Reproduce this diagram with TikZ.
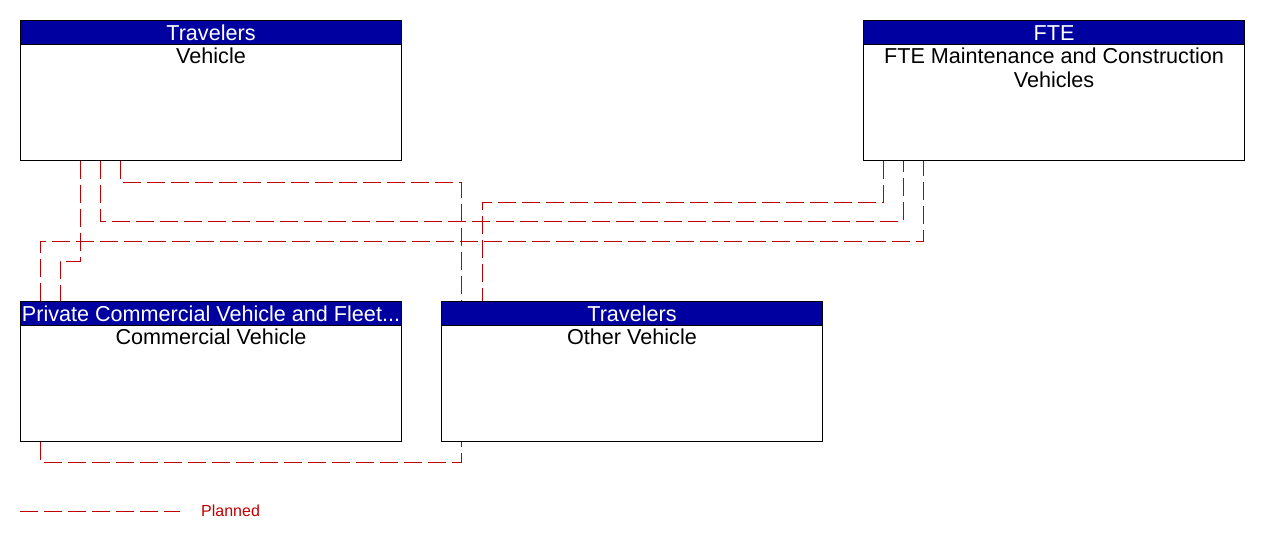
\documentclass[tikz,border=0pt]{standalone}
\usepackage{fontspec}
\setmainfont{Liberation Sans}
\usetikzlibrary{calc}
\definecolor{hdrblue}{RGB}{0,0,160}
\definecolor{planred}{RGB}{192,0,0}
\tikzset{
  body/.style={draw=black, line width=1pt, fill=white, minimum width=381pt, minimum height=140pt, inner sep=0pt, anchor=north west},
  header/.style={draw=black, line width=1pt, fill=hdrblue, minimum width=381pt, minimum height=24pt, inner sep=0pt, anchor=north west},
  hdrtext/.style={text=white, font=\fontsize{21.6}{24}\selectfont, anchor=base, inner sep=0pt},
  bodytext/.style={text=black, font=\fontsize{21.6}{24}\selectfont, anchor=base, inner sep=0pt},
  conn/.style={draw=planred, line width=1pt, dash pattern=on 18pt off 6pt},
}
\begin{document}
\begin{tikzpicture}[x=1pt,y=-1pt]
\useasboundingbox (0,0) rectangle (1261,542);
% boxes
\node[body] (veh) at (20,20) {};
\node[header] (vehh) at (20,20) {};
\node[hdrtext] (vehht) at (211,40) {Travelers};
\node[bodytext] (vehbt) at (211,63) {Vehicle};

\node[body] (fte) at (863,20) {};
\node[header] (fteh) at (863,20) {};
\node[hdrtext] (fteht) at (1054,40) {FTE};
\node[bodytext] (ftebt1) at (1054,63) {FTE Maintenance and Construction};
\node[bodytext] (ftebt2) at (1054,87) {Vehicles};

\node[body] (com) at (20,301) {};
\node[header] (comh) at (20,301) {};
\node[hdrtext] (comht) at (211,321) {Private Commercial Vehicle and Fleet...};
\node[bodytext] (combt) at (211,344) {Commercial Vehicle};

\node[body] (oth) at (441,301) {};
\node[header] (othh) at (441,301) {};
\node[hdrtext] (othht) at (632,321) {Travelers};
\node[bodytext] (othbt) at (632,344) {Other Vehicle};

% connectors
\draw[conn] ([xshift=60pt]veh.south west) -- ++(0,100) -- ++(-20,0) -- ([xshift=40pt]comh.north west);
\draw[conn] ([xshift=80pt]veh.south west) -- ++(0,60) -| ([xshift=40pt]fte.south west);
\draw[conn] ([xshift=100pt]veh.south west) -- ++(0,21) -| ([xshift=20pt]othh.north west);
\draw[conn] ([xshift=20pt]comh.north west) -- ++(0,-60) -| ([xshift=60pt]fte.south west);
\draw[conn] ([xshift=20pt]fte.south west) -- ++(0,41) -| ([xshift=41pt]othh.north west);
\draw[conn] ([xshift=20pt]com.south west) -- ++(0,20) -| ([xshift=20pt]oth.south west);

% legend
\coordinate (lega) at (20,511);
\coordinate (legb) at (180,511);
\draw[conn] (lega) -- (legb);
\node[text=planred, font=\fontsize{16}{19}\selectfont, anchor=west, inner sep=0pt] (legt) at (201,511) {Planned};
\end{tikzpicture}
\end{document}
